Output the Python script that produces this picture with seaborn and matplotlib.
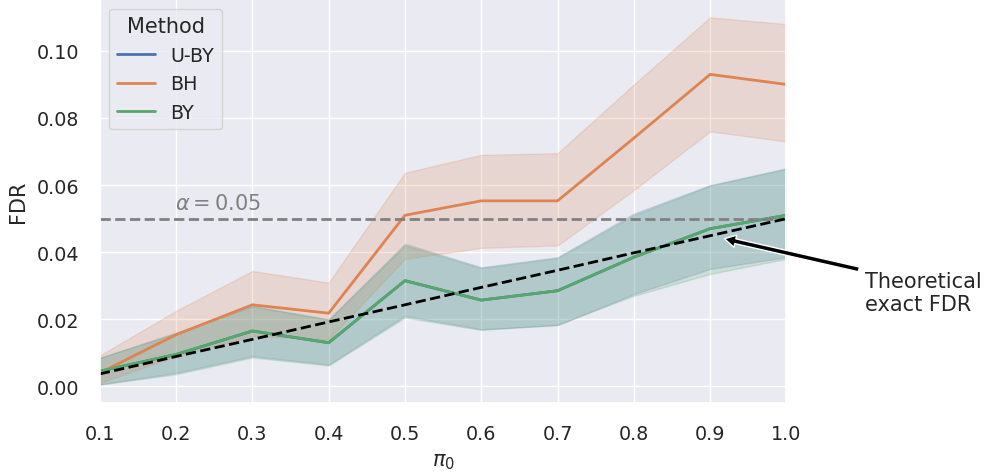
import numpy as np
import pandas as pd
import matplotlib
matplotlib.use('Agg')
import matplotlib.pyplot as plt
import seaborn as sns

# pi0 grid
pi0 = [0.1, 0.2, 0.3, 0.4, 0.5, 0.6, 0.7, 0.8, 0.9, 1.0]

# mean FDR and band limits per method
uby_mean = [0.0045, 0.0095, 0.0165, 0.0130, 0.0315, 0.0257, 0.0285, 0.0385, 0.0470, 0.0510]
uby_low = [0.0006, 0.0040, 0.0090, 0.0065, 0.0210, 0.0170, 0.0182, 0.0275, 0.0350, 0.0385]
uby_high = [0.0085, 0.0160, 0.0240, 0.0200, 0.0425, 0.0355, 0.0385, 0.0515, 0.0600, 0.0650]

bh_mean = [0.0040, 0.0154, 0.0243, 0.0218, 0.0510, 0.0553, 0.0553, 0.0740, 0.0930, 0.0900]
bh_low = [0.0010, 0.0090, 0.0150, 0.0140, 0.0380, 0.0413, 0.0420, 0.0585, 0.0760, 0.0730]
bh_high = [0.0092, 0.0225, 0.0344, 0.0309, 0.0637, 0.0690, 0.0695, 0.0900, 0.1100, 0.1080]

by_mean = [0.0045, 0.0095, 0.0165, 0.0130, 0.0315, 0.0257, 0.0285, 0.0385, 0.0470, 0.0510]
by_low = [0.0005, 0.0036, 0.0086, 0.0062, 0.0205, 0.0168, 0.0184, 0.0270, 0.0335, 0.0380]
by_high = [0.0085, 0.0158, 0.0238, 0.0198, 0.0420, 0.0352, 0.0382, 0.0510, 0.0598, 0.0648]

methods = ['U-BY', 'BH', 'BY']
theory_fdr = [0.0037, 0.0089, 0.0140, 0.0192, 0.0243, 0.0295, 0.0346, 0.0398, 0.0449, 0.0500]
alpha = 0.05

sns.set_theme(style='darkgrid', font_scale=1.25)

df = pd.DataFrame({
    'pi0': pi0 * 3,
    'FDR': uby_mean + bh_mean + by_mean,
    'low': uby_low + bh_low + by_low,
    'high': uby_high + bh_high + by_high,
    'Method': [m for m in methods for _ in pi0],
})

fig, ax = plt.subplots(figsize=(9.88, 4.77), dpi=100)
fig.subplots_adjust(left=0.101, right=0.796, top=1.0, bottom=0.153)

palette = sns.color_palette(n_colors=3)
sns.lineplot(data=df, x='pi0', y='FDR', hue='Method', palette=palette,
             errorbar=None, lw=2, ax=ax)
for m, c in zip(methods, palette):
    sub = df[df['Method'] == m]
    ax.fill_between(sub['pi0'], sub['low'], sub['high'], color=c, alpha=0.2, lw=1)

ax.axhline(alpha, color='gray', ls='--', lw=2)
ax.text(0.198, 0.0546, r'$\alpha = 0.05$', color='gray', va='center', ha='left')
ax.plot(pi0, theory_fdr, color='black', ls='--', lw=2)

ax.annotate('Theoretical\nexact FDR', xy=(0.915, 0.0442), xytext=(1.103, 0.0280),
            ha='left', va='center', annotation_clip=False,
            arrowprops=dict(facecolor='black', width=3.5, headwidth=9,
                            headlength=8, shrink=0.02))

ax.set_xlim(0.1, 1.0)
ax.set_xticks(pi0)
ax.tick_params(pad=9)
ax.set_xlabel(r'$\pi_0$', labelpad=6)
ax.set_ylabel('FDR', labelpad=6)
ax.legend(title='Method', loc='upper left')

plt.savefig('out.png', dpi=100)
